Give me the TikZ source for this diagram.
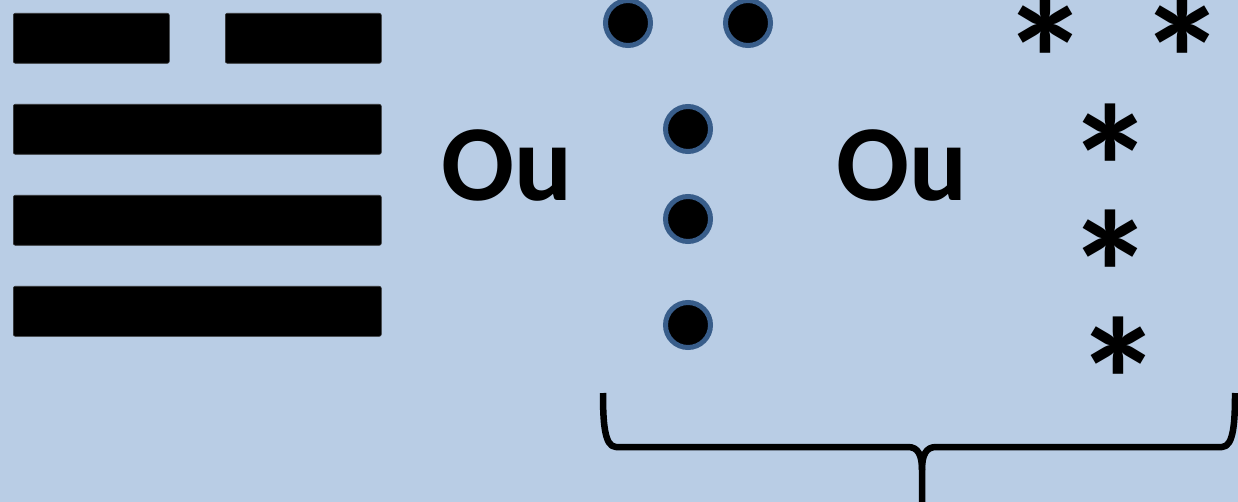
\documentclass[tikz,border=0pt]{standalone}
\usepackage{fontspec}
\setmainfont{Carlito}
\definecolor{bgblue}{HTML}{B9CDE5}
\definecolor{ringblue}{HTML}{385D8A}
\begin{document}
\begin{tikzpicture}[x=1pt,y=-1pt,
  bar/.style={fill=black,draw=black!80,line width=0.6pt,rounded corners=2pt,minimum height=50pt,inner sep=0pt,anchor=north west},
  dot/.style={circle,fill=black,draw=ringblue,line width=5pt,minimum size=45pt,inner sep=0pt},
  ou/.style={font=\fontsize{108}{108}\selectfont\bfseries,inner sep=0pt,anchor=base west},
  star/.style={font=\fontsize{177}{177}\selectfont\bfseries,inner sep=0pt,text height=56pt,text depth=0pt,anchor=center},
  brace/.style={line width=6.5pt,line join=round}]
\fill[bgblue] (0,0) rectangle (1238,502);
\useasboundingbox (0,0) rectangle (1238,502);
% bars
\node[bar,minimum width=156pt] (b1l) at (13,13) {};
\node[bar,minimum width=156pt] (b1r) at (225,13) {};
\node[bar,minimum width=368pt] (b2) at (13,104) {};
\node[bar,minimum width=368pt] (b3) at (13,195) {};
\node[bar,minimum width=368pt] (b4) at (13,286) {};
% text
\node[ou] (ou1) at (441,201) {Ou};
\node[ou] (ou2) at (836,201) {Ou};
% dots
\node[dot] (d1) at (628,23) {};
\node[dot] (d2) at (748,23) {};
\node[dot] (d3) at (688,129) {};
\node[dot] (d4) at (688,219) {};
\node[dot] (d5) at (688,325) {};
% stars
\node[star] (s1) at (1046,27) {\raisebox{-68pt}{*}};
\node[star] (s2) at (1183,27) {\raisebox{-68pt}{*}};
\node[star] (s3) at (1111,135) {\raisebox{-68pt}{*}};
\node[star] (s4) at (1111,241) {\raisebox{-68pt}{*}};
\node[star] (s5) at (1119,347) {\raisebox{-68pt}{*}};
% brace
\coordinate (bl) at (603,393);
\coordinate (br) at (1235,393);
\coordinate (bm) at (922,505);
\draw[brace] (bl) .. controls (603,420) and (604,447) .. (616,447) -- (908,447)
  .. controls (918,447) and (922,455) .. (922,470) -- (bm);
\draw[brace] (br) .. controls (1235,420) and (1234,447) .. (1222,447) -- (936,447)
  .. controls (926,447) and (922,455) .. (922,470);
\end{tikzpicture}
\end{document}
